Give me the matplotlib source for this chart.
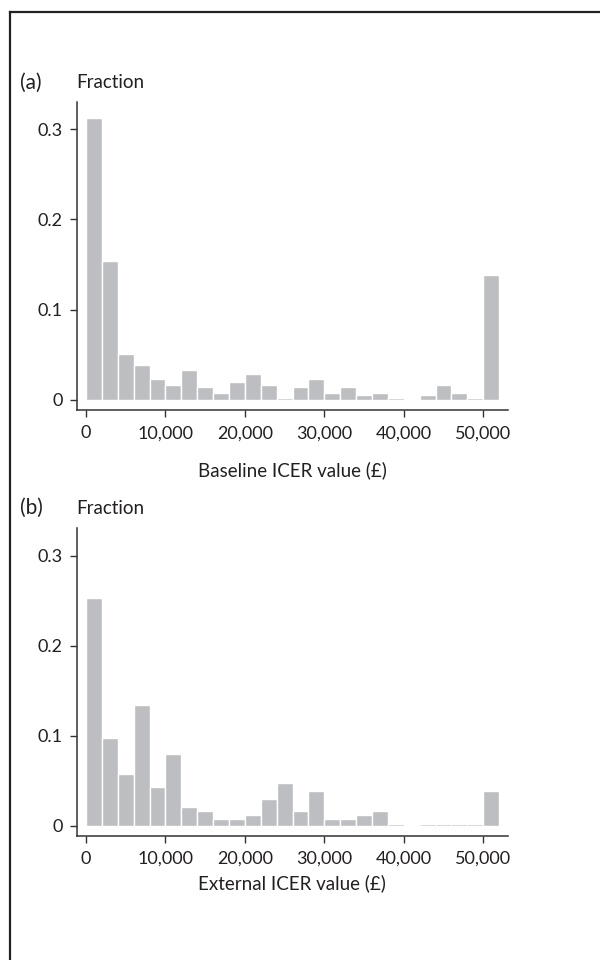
import matplotlib
matplotlib.use("Agg")
import matplotlib.pyplot as plt
from matplotlib.lines import Line2D
import numpy as np

# histogram bins: 2,000 wide, last bin collects values above 50,000
bin_edges = np.arange(0, 52001, 2000)

baseline_frac = [0.312, 0.154, 0.051, 0.039, 0.023, 0.017, 0.033, 0.014, 0.008,
                 0.020, 0.029, 0.017, 0.002, 0.014, 0.023, 0.008, 0.014, 0.005,
                 0.008, 0.002, 0.0, 0.005, 0.017, 0.008, 0.002, 0.139]
external_frac = [0.253, 0.098, 0.057, 0.134, 0.043, 0.080, 0.021, 0.016, 0.007,
                 0.007, 0.012, 0.030, 0.048, 0.016, 0.039, 0.007, 0.007, 0.012,
                 0.016, 0.002, 0.0, 0.002, 0.002, 0.002, 0.002, 0.039]

x_ticks = [0, 10000, 20000, 30000, 40000, 50000]
x_ticklabels = ["0", "10,000", "20,000", "30,000", "40,000", "50,000"]
y_ticks = [0, 0.1, 0.2, 0.3]
y_ticklabels = ["0", "0.1", "0.2", "0.3"]

panels = [
    ("(a)", "Baseline ICER value (£)", baseline_frac),
    ("(b)", "External ICER value (£)", external_frac),
]

plt.rcParams["font.family"] = ["Lato", "DejaVu Sans"]
text_col = "#231f20"
bar_col = "#bdbec2"

W, H = 600, 960
fig = plt.figure(figsize=(W / 100, H / 100), dpi=100)

def px(x, y):
    return x / W, 1 - y / H

# frame: only top and left edges visible
fig.add_artist(Line2D([10 / W, 10 / W], [0, 1 - 12 / H], color="#222222", lw=1.6))
fig.add_artist(Line2D([10 / W, 1], [1 - 12 / H, 1 - 12 / H], color="#222222", lw=1.6))

# axes positions in pixels: (left, top, right, bottom)
boxes = [(76.7, 101.7, 508.3, 410.0), (76.7, 528.3, 508.3, 835.7)]
label_y = [(83, 470), (508, 883)]

for (tag, xlabel, frac), (l, t, r, b), (ty, xly) in zip(panels, boxes, label_y):
    ax = fig.add_axes([l / W, 1 - b / H, (r - l) / W, (b - t) / H])
    ax.bar(bin_edges[:-1], frac, width=2000, align="edge",
           color=bar_col, edgecolor="white", linewidth=1.0)
    ax.set_xlim(-1170, 53150)
    ax.set_ylim(-0.0111, 0.3305)
    for s in ("top", "right"):
        ax.spines[s].set_visible(False)
    for s in ("left", "bottom"):
        ax.spines[s].set_color("#333333")
        ax.spines[s].set_linewidth(1.1)
    ax.set_xticks(x_ticks)
    ax.set_xticklabels(x_ticklabels)
    ax.set_yticks(y_ticks)
    ax.set_yticklabels(y_ticklabels)
    ax.tick_params(axis="both", direction="out", length=5, width=1.0,
                   color="#333333", labelsize=13, labelcolor=text_col)
    ax.tick_params(axis="x", pad=6)
    ax.tick_params(axis="y", pad=5)

    fig.text(*px(20, ty), tag, fontsize=15, color=text_col, va="center", ha="left")
    fig.text(*px(76, ty), "Fraction", fontsize=13.5, color=text_col, va="center", ha="left")
    fig.text(*px(292, xly), xlabel, fontsize=13.5, color=text_col, va="center", ha="center")

fig.savefig("out.png", dpi=100)
